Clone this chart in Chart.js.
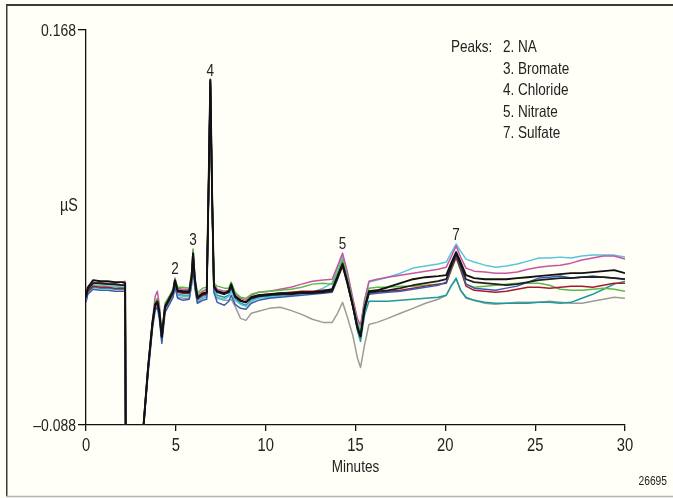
<!DOCTYPE html>
<html>
<head>
<meta charset="utf-8">
<title>Chromatogram overlay</title>
<script src="https://cdn.jsdelivr.net/npm/chart.js@4.4.1/dist/chart.umd.min.js"></script>
<style>
    html, body { margin: 0; padding: 0; background: #fffef7; }
    #wrap { position: relative; width: 673px; height: 498px; }
</style>
</head>
<body>
<div id="wrap"><canvas id="chart"></canvas></div>
<script>
// Retention time grid (minutes), shared by all traces
const minutes = [0, 0.1, 0.4, 0.8, 1.2, 1.6, 2.0, 2.18, 2.24, 3.1,
    3.2, 3.45, 3.7, 3.85, 3.97, 4.08, 4.22, 4.4, 4.7, 4.85,
    4.95, 5.1, 5.4, 5.75, 5.88, 5.96, 6.06, 6.2, 6.5, 6.72,
    6.82, 6.92, 7.02, 7.12, 7.3, 7.7, 7.95, 8.08, 8.3, 8.6,
    8.9, 9.2, 9.6, 10.2, 10.8, 11.4, 12.0, 12.6, 13.2, 13.7,
    14.0, 14.28, 14.55, 14.85, 15.1, 15.28, 15.5, 15.75, 16.2, 16.8,
    17.5, 18.2, 18.9, 19.6, 20.05, 20.35, 20.6, 20.85, 21.15, 21.6,
    22.2, 22.8, 23.4, 24.0, 24.6, 25.2, 25.8, 26.4, 27.0, 27.6,
    28.2, 28.8, 29.4, 30.0];

// Conductivity (µS) for each injection
const traceBlack = [-0.0046, 0.0013, 0.0059, 0.0052, 0.0052, 0.0046, 0.0046, 0.0039, -0.2, -0.2,
    -0.0884, -0.0514, -0.0215, -0.0098, -0.0078, -0.0143, -0.0306, -0.0111, -0.0046, -0.0013,
    0.0059, -0.0007, -0.0013, -0.0013, 0.0085, 0.0234, 0.0059, -0.0052, -0.0026, -0.0020,
    0.0644, 0.1359, 0.0611, 0.0020, -0.0013, -0.0026, -0.0013, 0.0033, -0.0046, -0.0072,
    -0.0085, -0.0052, -0.0039, -0.0033, -0.0026, -0.0026, -0.0020, -0.0020, -0.0013, 0.0000,
    0.0085, 0.0163, 0.0046, -0.0104, -0.0241, -0.0306, -0.0124, -0.0013, -0.0007, 0.0013,
    0.0039, 0.0065, 0.0078, 0.0085, 0.0091, 0.0176, 0.0241, 0.0176, 0.0091, 0.0072,
    0.0065, 0.0065, 0.0065, 0.0072, 0.0078, 0.0085, 0.0091, 0.0098, 0.0104, 0.0104,
    0.0111, 0.0117, 0.0124, 0.0104];

const traceBlack2 = [-0.0052, 0.0000, 0.0039, 0.0039, 0.0033, 0.0033, 0.0026, 0.0026, -0.2, -0.2,
    -0.0891, -0.0520, -0.0221, -0.0104, -0.0085, -0.0150, -0.0312, -0.0117, -0.0052, -0.0020,
    0.0052, -0.0013, -0.0020, -0.0020, 0.0078, 0.0221, 0.0052, -0.0059, -0.0033, -0.0026,
    0.0637, 0.1352, 0.0605, 0.0013, -0.0020, -0.0033, -0.0020, 0.0020, -0.0052, -0.0078,
    -0.0085, -0.0059, -0.0046, -0.0039, -0.0033, -0.0033, -0.0026, -0.0026, -0.0020, -0.0013,
    0.0072, 0.0150, 0.0033, -0.0111, -0.0247, -0.0306, -0.0130, -0.0020, -0.0013, -0.0007,
    0.0007, 0.0026, 0.0039, 0.0052, 0.0065, 0.0156, 0.0228, 0.0156, 0.0065, 0.0046,
    0.0039, 0.0033, 0.0026, 0.0033, 0.0046, 0.0059, 0.0065, 0.0072, 0.0072, 0.0078,
    0.0078, 0.0078, 0.0072, 0.0065];

const tracePink = [-0.0052, 0.0007, 0.0046, 0.0039, 0.0039, 0.0039, 0.0046, 0.0052, -0.2, -0.2,
    -0.0871, -0.0501, -0.0202, -0.0046, -0.0013, -0.0098, -0.0293, -0.0098, -0.0033, 0.0000,
    0.0072, 0.0007, 0.0000, 0.0000, 0.0104, 0.0254, 0.0072, -0.0039, -0.0013, 0.0000,
    0.0631, 0.1346, 0.0598, 0.0033, 0.0000, -0.0013, -0.0007, 0.0033, -0.0033, -0.0059,
    -0.0072, -0.0039, -0.0020, -0.0013, 0.0000, 0.0013, 0.0033, 0.0052, 0.0059, 0.0065,
    0.0150, 0.0234, 0.0111, -0.0059, -0.0189, -0.0234, -0.0072, 0.0052, 0.0065, 0.0078,
    0.0091, 0.0104, 0.0117, 0.0130, 0.0143, 0.0215, 0.0280, 0.0208, 0.0137, 0.0117,
    0.0111, 0.0104, 0.0104, 0.0111, 0.0130, 0.0143, 0.0150, 0.0156, 0.0169, 0.0189,
    0.0202, 0.0215, 0.0215, 0.0195];

const traceCyan = [-0.0059, -0.0007, 0.0026, 0.0020, 0.0020, 0.0020, 0.0013, 0.0013, -0.2, -0.2,
    -0.0897, -0.0540, -0.0241, -0.0124, -0.0104, -0.0169, -0.0332, -0.0137, -0.0072, -0.0039,
    0.0033, -0.0039, -0.0046, -0.0046, 0.0052, 0.0202, 0.0033, -0.0078, -0.0052, -0.0046,
    0.0611, 0.1326, 0.0579, -0.0007, -0.0052, -0.0065, -0.0046, -0.0013, -0.0072, -0.0098,
    -0.0111, -0.0078, -0.0059, -0.0052, -0.0046, -0.0039, -0.0033, -0.0020, 0.0007, 0.0039,
    0.0137, 0.0221, 0.0098, -0.0065, -0.0195, -0.0247, -0.0078, 0.0046, 0.0059, 0.0078,
    0.0104, 0.0137, 0.0150, 0.0163, 0.0176, 0.0241, 0.0293, 0.0247, 0.0195, 0.0176,
    0.0156, 0.0143, 0.0150, 0.0163, 0.0182, 0.0202, 0.0202, 0.0208, 0.0202, 0.0215,
    0.0221, 0.0221, 0.0221, 0.0208];

const traceGreen = [-0.0052, 0.0000, 0.0039, 0.0033, 0.0033, 0.0026, 0.0026, 0.0033, -0.2, -0.2,
    -0.0878, -0.0507, -0.0208, -0.0085, -0.0059, -0.0130, -0.0293, -0.0091, -0.0033, 0.0000,
    0.0065, 0.0013, 0.0013, 0.0007, 0.0111, 0.0260, 0.0078, -0.0026, 0.0007, 0.0013,
    0.0624, 0.1333, 0.0592, 0.0039, 0.0020, 0.0007, 0.0007, 0.0046, -0.0020, -0.0052,
    -0.0059, -0.0033, -0.0020, -0.0013, -0.0007, 0.0000, 0.0013, 0.0033, 0.0039, 0.0033,
    0.0111, 0.0195, 0.0072, -0.0085, -0.0221, -0.0273, -0.0104, 0.0007, 0.0013, 0.0013,
    0.0020, 0.0020, 0.0026, 0.0033, 0.0039, 0.0130, 0.0202, 0.0124, 0.0033, 0.0013,
    0.0020, 0.0026, 0.0033, 0.0039, 0.0039, 0.0039, 0.0026, 0.0000, -0.0007, -0.0007,
    0.0000, 0.0007, 0.0000, -0.0013];

const traceRed = [-0.0065, -0.0013, 0.0020, 0.0013, 0.0013, 0.0007, 0.0007, 0.0007, -0.2, -0.2,
    -0.0884, -0.0520, -0.0228, -0.0111, -0.0091, -0.0156, -0.0319, -0.0124, -0.0059, -0.0026,
    0.0046, -0.0020, -0.0026, -0.0026, 0.0072, 0.0215, 0.0046, -0.0065, -0.0039, -0.0033,
    0.0631, 0.1339, 0.0598, 0.0007, -0.0013, -0.0026, -0.0020, 0.0020, -0.0046, -0.0072,
    -0.0085, -0.0052, -0.0039, -0.0033, -0.0026, -0.0020, -0.0013, -0.0013, -0.0007, -0.0007,
    0.0078, 0.0169, 0.0046, -0.0104, -0.0247, -0.0306, -0.0130, -0.0026, -0.0020, -0.0013,
    -0.0007, 0.0007, 0.0020, 0.0033, 0.0039, 0.0137, 0.0208, 0.0130, 0.0020, -0.0007,
    -0.0013, -0.0020, -0.0013, 0.0000, 0.0013, 0.0013, 0.0007, 0.0013, 0.0020, 0.0020,
    0.0013, 0.0026, 0.0039, 0.0039];

const traceBlue = [-0.0085, -0.0033, 0.0000, -0.0007, -0.0007, -0.0013, -0.0013, -0.0013, -0.2, -0.2,
    -0.0904, -0.0553, -0.0254, -0.0137, -0.0117, -0.0189, -0.0351, -0.0150, -0.0085, -0.0052,
    0.0020, -0.0059, -0.0072, -0.0065, 0.0033, 0.0176, 0.0007, -0.0091, -0.0072, -0.0065,
    0.0637, 0.1346, 0.0592, -0.0020, -0.0085, -0.0104, -0.0078, -0.0039, -0.0098, -0.0124,
    -0.0130, -0.0091, -0.0072, -0.0059, -0.0052, -0.0046, -0.0039, -0.0033, -0.0026, -0.0020,
    0.0065, 0.0163, 0.0039, -0.0111, -0.0254, -0.0306, -0.0137, -0.0033, -0.0026, -0.0020,
    -0.0013, 0.0000, 0.0013, 0.0026, 0.0046, 0.0150, 0.0221, 0.0143, 0.0033, 0.0007,
    0.0000, -0.0007, 0.0007, 0.0020, 0.0046, 0.0072, 0.0078, 0.0085, 0.0072, 0.0078,
    0.0085, 0.0078, 0.0072, 0.0065];

const traceTeal = [-0.0072, -0.0020, 0.0013, 0.0007, 0.0007, 0.0000, 0.0000, 0.0000, -0.2, -0.2,
    -0.0891, -0.0533, -0.0234, -0.0117, -0.0098, -0.0163, -0.0325, -0.0130, -0.0065, -0.0033,
    0.0039, -0.0033, -0.0039, -0.0039, 0.0059, 0.0202, 0.0033, -0.0072, -0.0052, -0.0039,
    0.0618, 0.1326, 0.0585, -0.0007, -0.0039, -0.0052, -0.0039, 0.0000, -0.0065, -0.0091,
    -0.0104, -0.0072, -0.0052, -0.0046, -0.0039, -0.0033, -0.0026, -0.0020, -0.0007, 0.0000,
    0.0085, 0.0176, 0.0046, -0.0111, -0.0267, -0.0338, -0.0169, -0.0078, -0.0078, -0.0078,
    -0.0072, -0.0065, -0.0059, -0.0052, -0.0039, 0.0026, 0.0072, -0.0007, -0.0052, -0.0072,
    -0.0085, -0.0091, -0.0091, -0.0091, -0.0091, -0.0085, -0.0085, -0.0091, -0.0085, -0.0059,
    -0.0033, 0.0000, 0.0033, 0.0052];

const traceGray = [-0.0065, -0.0013, 0.0026, 0.0026, 0.0020, 0.0020, 0.0013, 0.0013, -0.2, -0.2,
    -0.0891, -0.0527, -0.0234, -0.0111, -0.0091, -0.0156, -0.0319, -0.0130, -0.0072, -0.0046,
    0.0020, -0.0052, -0.0059, -0.0059, 0.0033, 0.0176, 0.0020, -0.0085, -0.0059, -0.0052,
    0.0618, 0.1320, 0.0579, -0.0020, -0.0059, -0.0072, -0.0072, -0.0065, -0.0111, -0.0189,
    -0.0202, -0.0156, -0.0143, -0.0124, -0.0117, -0.0137, -0.0163, -0.0195, -0.0215, -0.0215,
    -0.0156, -0.0085, -0.0182, -0.0299, -0.0442, -0.0507, -0.0364, -0.0228, -0.0215, -0.0189,
    -0.0156, -0.0124, -0.0091, -0.0065, -0.0039, 0.0026, 0.0065, -0.0007, -0.0059, -0.0072,
    -0.0091, -0.0098, -0.0091, -0.0085, -0.0085, -0.0085, -0.0078, -0.0085, -0.0091, -0.0091,
    -0.0078, -0.0065, -0.0052, -0.0059];

// Axis ticks
const xTicks = [0, 5, 10, 15, 20, 25, 30];
const xTickLabels = ['0', '5', '10', '15', '20', '25', '30'];
const yTicks = [-0.088, 0.168];
const yTickLabels = ['\u20130.088', '0.168'];

// Peak annotations
const peakNumbers = ['2', '3', '4', '5', '7'];
const peakMinutes = [4.95, 5.96, 6.92, 14.28, 20.6];
const peakList = ['2. NA', '3. Bromate', '4. Chloride', '5. Nitrate', '7. Sulfate'];

const FONT = "'Liberation Sans', Arial, sans-serif";
const INK = '#222222';
// Liberation Sans squeezed sideways stands in for the condensed face of the original
const NARROW = 0.82;

/**
 * Build {x, y} points from the shared time grid
 * @param {number[]} values - conductivity values
 * @returns {Object[]}
 */
function toPoints(values) {
    return minutes.map((t, i) => ({ x: t, y: values[i] }));
}

function trace(values, color, width) {
    return {
        data: toPoints(values),
        borderColor: color,
        borderWidth: width,
        pointRadius: 0,
        tension: 0,
        borderJoinStyle: 'round'
    };
}

/**
 * Draw condensed text at (x, y) on the alphabetic baseline
 */
function narrowText(ctx, text, x, y, size, align) {
    ctx.save();
    ctx.font = `${size}px ${FONT}`;
    ctx.textAlign = align;
    ctx.textBaseline = 'alphabetic';
    ctx.fillStyle = INK;
    ctx.translate(x, y);
    ctx.scale(NARROW, 1);
    ctx.fillText(text, 0, 0);
    ctx.restore();
}

// Paper background and the figure frame
const framePlugin = {
    id: 'frame',
    beforeDraw(chart) {
        const ctx = chart.ctx;
        ctx.save();
        ctx.fillStyle = '#fffef7';
        ctx.fillRect(0, 0, chart.width, chart.height);

        ctx.strokeStyle = '#3a3a3a';
        ctx.lineWidth = 2;
        ctx.beginPath();
        ctx.moveTo(6, 5);
        ctx.lineTo(chart.width, 5);
        ctx.stroke();

        ctx.lineWidth = 1.5;
        ctx.beginPath();
        ctx.moveTo(6.75, 5);
        ctx.lineTo(6.75, 497);
        ctx.stroke();

        ctx.strokeStyle = '#b5b5b5';
        ctx.beginPath();
        ctx.moveTo(6, 496.5);
        ctx.lineTo(chart.width, 496.5);
        ctx.stroke();
        ctx.restore();
    }
};

// Tick labels, axis titles, peak numbers, peak list and figure number
const labelPlugin = {
    id: 'labels',
    afterDraw(chart) {
        const { ctx, scales: { x, y } } = chart;

        x.ticks.forEach((tick, i) => {
            narrowText(ctx, xTickLabels[i], x.getPixelForValue(tick.value), x.top + 26, 18, 'center');
        });
        y.ticks.forEach((tick, i) => {
            narrowText(ctx, yTickLabels[i], y.right - 10, y.getPixelForValue(tick.value) + 6, 17, 'right');
        });
        narrowText(ctx, 'Minutes', (x.left + x.right) / 2, x.top + 47, 16.5, 'center');
        narrowText(ctx, '\u00b5S', 69, 211, 17.5, 'center');

        // numbers above each peak apex
        peakMinutes.forEach((t, k) => {
            const i = minutes.indexOf(t);
            const top = Math.max(...chart.data.datasets.map(ds => ds.data[i].y));
            narrowText(ctx, peakNumbers[k], x.getPixelForValue(t), y.getPixelForValue(top) - 4, 16.5, 'center');
        });

        // peak list in the upper right
        narrowText(ctx, 'Peaks:', 451, 52, 16.5, 'left');
        peakList.forEach((name, k) => {
            narrowText(ctx, name, 503, 52 + k * 21.6, 16.5, 'left');
        });

        narrowText(ctx, '26695', 667, 485, 12.5, 'right');
    }
};

const axisLine = { display: true, color: '#111111', width: 1.3 };
const tickMarks = { drawOnChartArea: false, drawTicks: true, color: '#111111', lineWidth: 1.3 };

new Chart(document.getElementById('chart'), {
    type: 'line',
    data: {
        datasets: [
            trace(traceBlack, '#111111', 1.9),
            trace(traceBlack2, '#1e1e1e', 1.7),
            trace(traceBlue, '#3a5cb0', 1.5),
            trace(traceRed, '#a71a2e', 1.5),
            trace(traceGreen, '#5cb94a', 1.5),
            trace(tracePink, '#c655a4', 1.5),
            trace(traceCyan, '#5ac3e0', 1.5),
            trace(traceTeal, '#1b9a9c', 1.5),
            trace(traceGray, '#9b9b9b', 1.5)
        ]
    },
    options: {
        responsive: true,
        maintainAspectRatio: false,
        animation: false,
        events: [],
        layout: { padding: { left: 26, top: 30, right: 48, bottom: 23 } },
        plugins: {
            legend: { display: false },
            tooltip: { enabled: false }
        },
        scales: {
            x: {
                type: 'linear',
                min: 0,
                max: 30,
                afterBuildTicks: (s) => { s.ticks = xTicks.map(v => ({ value: v })); },
                afterFit: (s) => { s.height = 50; },
                grid: { ...tickMarks, tickLength: 6 },
                border: axisLine,
                ticks: { display: false }
            },
            y: {
                type: 'linear',
                min: yTicks[0],
                max: yTicks[1],
                afterBuildTicks: (s) => { s.ticks = yTicks.map(v => ({ value: v })); },
                afterFit: (s) => { s.width = 60; },
                grid: { ...tickMarks, tickLength: 8 },
                border: axisLine,
                ticks: { display: false }
            }
        }
    },
    plugins: [framePlugin, labelPlugin]
});
</script>
</body>
</html>
